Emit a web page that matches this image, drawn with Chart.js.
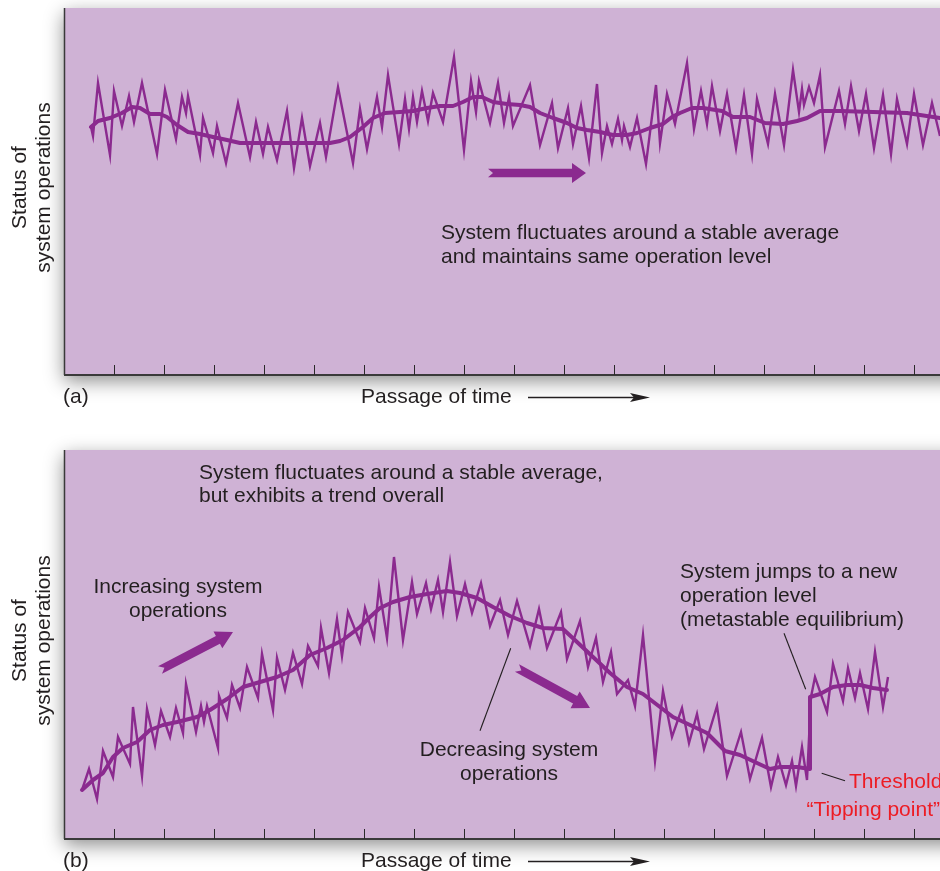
<!DOCTYPE html>
<html><head><meta charset="utf-8">
<script src="https://cdn.jsdelivr.net/npm/chart.js@4"></script>
<style>
html,body{margin:0;padding:0;background:#fff;overflow:hidden;width:940px;height:871px}
canvas{position:absolute;left:0}
#ca{top:0}
#cb{top:420px}
</style></head><body>
<canvas id="ca" width="940" height="420"></canvas>
<canvas id="cb" width="940" height="452"></canvas>
<script>
// ---------- Panel (a): stable system ----------
const aRawTime   = [27,29,34,46,50,58,65,70,78,93,101,112,118,122,124,136,139,149,153,162,174,186,192,199,204,213,223,230,238,246,256,262,274,289,296,303,313,318,324,335,341,345,349,353,358,364,369,379,390,400,407,412,415,426,434,440,445,449,466,476,488,494,504,509,517,525,533,538,543,548,554,558,560,566,573,582,592,596,603,611,623,630,637,643,648,656,663,672,680,688,693,704,711,720,729,735,738,740,745,750,756,761,775,781,787,795,802,810,819,827,833,843,850,859,868,876,884];
const aRawStatus = [248,239,292,220,284,249,279,253,292,221,285,236,278,262,279,220,257,222,249,212,272,218,253,221,248,215,264,207,257,209,252,218,288,212,266,226,278,248,300,231,276,246,278,253,284,254,282,253,318,225,294,263,294,252,292,252,278,249,290,230,272,227,267,231,269,217,291,222,249,231,256,235,249,228,257,211,290,232,281,251,312,246,284,251,289,244,281,227,280,221,276,231,281,230,305,263,286,270,288,272,300,228,284,251,289,244,281,227,280,221,276,231,281,230,272,239,270];
const aTrendTime   = [27,34,46,58,68,76,86,96,103,113,124,136,149,163,176,196,229,266,276,286,299,309,321,336,349,363,376,389,399,409,418,429,443,456,466,476,489,503,513,523,536,549,563,573,586,599,608,616,628,639,658,669,686,701,719,733,743,756,776,809,843,876];
const aTrendStatus = [248,254,257,262,268,267,261,261,258,250,243,241,238,235,232,232,232,232,234,238,248,257,262,263,264,267,269,269,273,278,278,273,271,270,268,262,257,252,247,245,243,240,240,242,247,251,258,262,267,267,264,258,258,252,251,254,257,264,264,263,262,257];

// ---------- Panel (b): trend and tipping point ----------
const bRawTime   = [18,25,33,39,49,54,66,69,78,83,91,97,106,112,119,122,132,137,140,143,154,155,163,168,176,183,194,198,209,213,221,229,238,244,254,257,265,273,278,284,296,301,310,315,323,330,339,348,353,362,367,374,379,386,393,401,408,417,426,436,444,453,466,475,483,497,503,516,524,532,539,547,553,564,571,579,591,599,608,618,625,633,640,653,663,677,686,698,707,714,722,728,732,738,743,747,751,763,769,779,784,791,796,804,811,819,824];
const bRawStatus = [49,70,40,88,62,102,75,132,63,130,94,128,102,131,106,155,107,133,117,133,91,143,121,154,131,172,141,185,129,181,149,186,155,193,173,211,166,220,183,227,197,231,201,252,201,282,199,257,225,256,230,259,227,277,223,255,226,256,213,239,204,238,193,230,191,227,180,218,172,201,157,187,145,159,133,204,78,148,102,131,96,125,90,133,63,107,60,101,52,82,54,78,53,92,59,142,162,127,175,138,171,141,166,130,187,132,162];
const bTrendTime   = [18,29,39,49,59,73,86,99,113,133,146,163,179,196,213,229,246,263,279,296,306,316,329,346,363,383,396,413,429,446,463,479,499,513,529,546,563,579,596,609,626,643,661,676,693,706,716,733,746,746,756,769,783,796,809,823];
const bTrendStatus = [49,59,66,82,91,97,109,114,117,122,129,140,152,157,162,169,184,191,199,212,222,231,237,242,245,248,246,241,232,223,216,211,210,197,182,166,152,145,132,122,114,106,88,84,76,70,72,72,70,142,145,152,154,154,151,149];

const timeTickStep = 50;

const LINE = '#8b2a8f';
const PANEL_BG = '#cfb2d5';
const INK = '#231f20';
const RED = '#ed1c24';
const FONT = '21px "Liberation Sans", Arial, Helvetica, sans-serif';

function pts(xs, ys){ return xs.map((x,i)=>({x:x, y:ys[i]})); }

function thickArrow(ctx, x1,y1,x2,y2, sh, hl, hh, notch){
  const dx=x2-x1, dy=y2-y1, L=Math.hypot(dx,dy);
  const ux=dx/L, uy=dy/L, nx=-uy, ny=ux;
  const bx=x2-ux*hl, by=y2-uy*hl;
  ctx.beginPath();
  ctx.moveTo(x1+nx*sh, y1+ny*sh);
  ctx.lineTo(bx+nx*sh, by+ny*sh);
  ctx.lineTo(bx+nx*hh, by+ny*hh);
  ctx.lineTo(x2, y2);
  ctx.lineTo(bx-nx*hh, by-ny*hh);
  ctx.lineTo(bx-nx*sh, by-ny*sh);
  ctx.lineTo(x1-nx*sh, y1-ny*sh);
  ctx.lineTo(x1+ux*notch, y1+uy*notch);
  ctx.closePath();
  ctx.fill();
}

function makePanel(canvasId, letter, rawT, rawS, trT, trS, yMax, pad, annotate){
  const panelPlugin = {
    id: 'panel'+letter,
    beforeDraw(chart){
      const {ctx, chartArea:a} = chart;
      ctx.save();
      ctx.shadowColor = 'rgba(0,0,0,0.45)';
      ctx.shadowBlur = 18;
      ctx.shadowOffsetY = 6;
      ctx.fillStyle = PANEL_BG;
      ctx.fillRect(a.left, a.top, a.right - a.left + 60, a.bottom - a.top);
      ctx.restore();
      ctx.save();
      ctx.fillStyle = PANEL_BG;
      ctx.fillRect(a.left, a.top, a.right - a.left + 60, a.bottom - a.top);
      // axes
      ctx.strokeStyle = '#3a3a3a';
      ctx.lineWidth = 1.5;
      ctx.beginPath(); ctx.moveTo(a.left+0.5, a.top); ctx.lineTo(a.left+0.5, a.bottom); ctx.stroke();
      ctx.lineWidth = 2;
      ctx.beginPath(); ctx.moveTo(a.left, a.bottom); ctx.lineTo(a.right+5, a.bottom); ctx.stroke();
      const xs = chart.scales.x;
      ctx.lineWidth = 1;
      ctx.strokeStyle = '#2a2a2a';
      for(let v = timeTickStep; v < xs.max; v += timeTickStep){
        const px = Math.round(xs.getPixelForValue(v)) + 0.5;
        ctx.beginPath(); ctx.moveTo(px, a.bottom); ctx.lineTo(px, a.bottom-10); ctx.stroke();
      }
      // labels outside the panel
      ctx.fillStyle = INK;
      ctx.font = FONT;
      ctx.textBaseline = 'alphabetic';
      ctx.textAlign = 'left';
      ctx.fillText('('+letter+')', a.left-1, a.bottom+28);
      ctx.fillText('Passage of time', a.left+297, a.bottom+28);
      ctx.strokeStyle = INK; ctx.lineWidth = 1.3;
      const ay = a.bottom + 22.5;
      ctx.beginPath(); ctx.moveTo(a.left+464, ay); ctx.lineTo(a.left+572, ay); ctx.stroke();
      ctx.beginPath(); ctx.moveTo(a.left+566, ay-4.5); ctx.lineTo(a.left+586, ay); ctx.lineTo(a.left+566, ay+4.5); ctx.lineTo(a.left+570, ay); ctx.closePath(); ctx.fill();
      // y title
      const cy = (a.top + a.bottom)/2 - 4;
      ctx.save();
      ctx.translate(26, cy); ctx.rotate(-Math.PI/2);
      ctx.textAlign = 'center';
      ctx.fillText('Status of', 0, 0);
      ctx.restore();
      ctx.save();
      ctx.translate(49.5, cy); ctx.rotate(-Math.PI/2);
      ctx.textAlign = 'center';
      ctx.fillText('system operations', 0, 0);
      ctx.restore();
      ctx.restore();
    },
    afterDatasetsDraw(chart){
      const {ctx} = chart;
      const xs = chart.scales.x, ys = chart.scales.y;
      const P = (t,v)=>[xs.getPixelForValue(t), ys.getPixelForValue(v)];
      ctx.save();
      ctx.font = FONT;
      ctx.textBaseline = 'alphabetic';
      annotate(ctx, P);
      ctx.restore();
    }
  };
  return new Chart(document.getElementById(canvasId), {
    type: 'line',
    data: { datasets: [
      { data: pts(trT, trS), borderColor: LINE, borderWidth: 4, pointRadius: 0, tension: 0, borderJoinStyle: 'round', borderCapStyle: 'round' },
      { data: pts(rawT, rawS), borderColor: LINE, borderWidth: 2.4, pointRadius: 0, tension: 0, borderJoinStyle: 'miter' }
    ]},
    options: {
      responsive: false, animation: false, devicePixelRatio: 1,
      layout: { padding: pad },
      plugins: { legend: {display:false}, tooltip: {enabled:false}, title: {display:false} },
      scales: {
        x: { type: 'linear', min: 0, max: 876, display: false },
        y: { type: 'linear', min: 0, max: yMax, display: false }
      }
    },
    plugins: [panelPlugin]
  });
}

makePanel('ca', 'a', aRawTime, aRawStatus, aTrendTime, aTrendStatus, 367,
  {left: 64, top: 8, right: 0, bottom: 45},
  (ctx, P) => {
    ctx.fillStyle = INK; ctx.textAlign = 'left';
    let p = P(377, 136); ctx.fillText('System fluctuates around a stable average', p[0], p[1]);
    p = P(377, 112); ctx.fillText('and maintains same operation level', p[0], p[1]);
    ctx.fillStyle = LINE;
    const t = P(424, 202), h = P(522, 202);
    thickArrow(ctx, t[0], t[1], h[0], h[1], 4.3, 14, 10, 5);
  });

makePanel('cb', 'b', bRawTime, bRawStatus, bTrendTime, bTrendStatus, 389,
  {left: 64, top: 30, right: 0, bottom: 33},
  (ctx, P) => {
    ctx.fillStyle = INK; ctx.textAlign = 'left';
    let p = P(135, 360.5); ctx.fillText('System fluctuates around a stable average,', p[0], p[1]);
    p = P(135, 337); ctx.fillText('but exhibits a trend overall', p[0], p[1]);
    ctx.textAlign = 'center';
    p = P(114, 246.5); ctx.fillText('Increasing system', p[0], p[1]);
    p = P(114, 222.5); ctx.fillText('operations', p[0], p[1]);
    p = P(445, 83.5); ctx.fillText('Decreasing system', p[0], p[1]);
    p = P(445, 59.5); ctx.fillText('operations', p[0], p[1]);
    ctx.textAlign = 'left';
    p = P(616, 261.5); ctx.fillText('System jumps to a new', p[0], p[1]);
    p = P(616, 237); ctx.fillText('operation level', p[0], p[1]);
    p = P(616, 213.5); ctx.fillText('(metastable equilibrium)', p[0], p[1]);
    ctx.fillStyle = RED;
    p = P(785, 51); ctx.fillText('Threshold', p[0], p[1]);
    p = P(742.5, 23.5); ctx.fillText('\u201CTipping point\u201D', p[0], p[1]);
    // leader lines
    ctx.strokeStyle = INK; ctx.lineWidth = 1.1;
    const seg = (t1,v1,t2,v2)=>{ const a=P(t1,v1), b=P(t2,v2); ctx.beginPath(); ctx.moveTo(a[0],a[1]); ctx.lineTo(b[0],b[1]); ctx.stroke(); };
    seg(446.7, 190.7, 416, 108.3);
    seg(720, 205.7, 741.7, 149.7);
    seg(757.7, 65.7, 781, 58.3);
    // thick arrows
    ctx.fillStyle = LINE;
    let a1 = P(96, 169), a2 = P(169, 207);
    thickArrow(ctx, a1[0], a1[1], a2[0], a2[1], 4.3, 17, 9.5, 5);
    a1 = P(453, 171); a2 = P(526, 131);
    thickArrow(ctx, a1[0], a1[1], a2[0], a2[1], 4.3, 17, 9.5, 5);
  });
</script>
</body></html>
